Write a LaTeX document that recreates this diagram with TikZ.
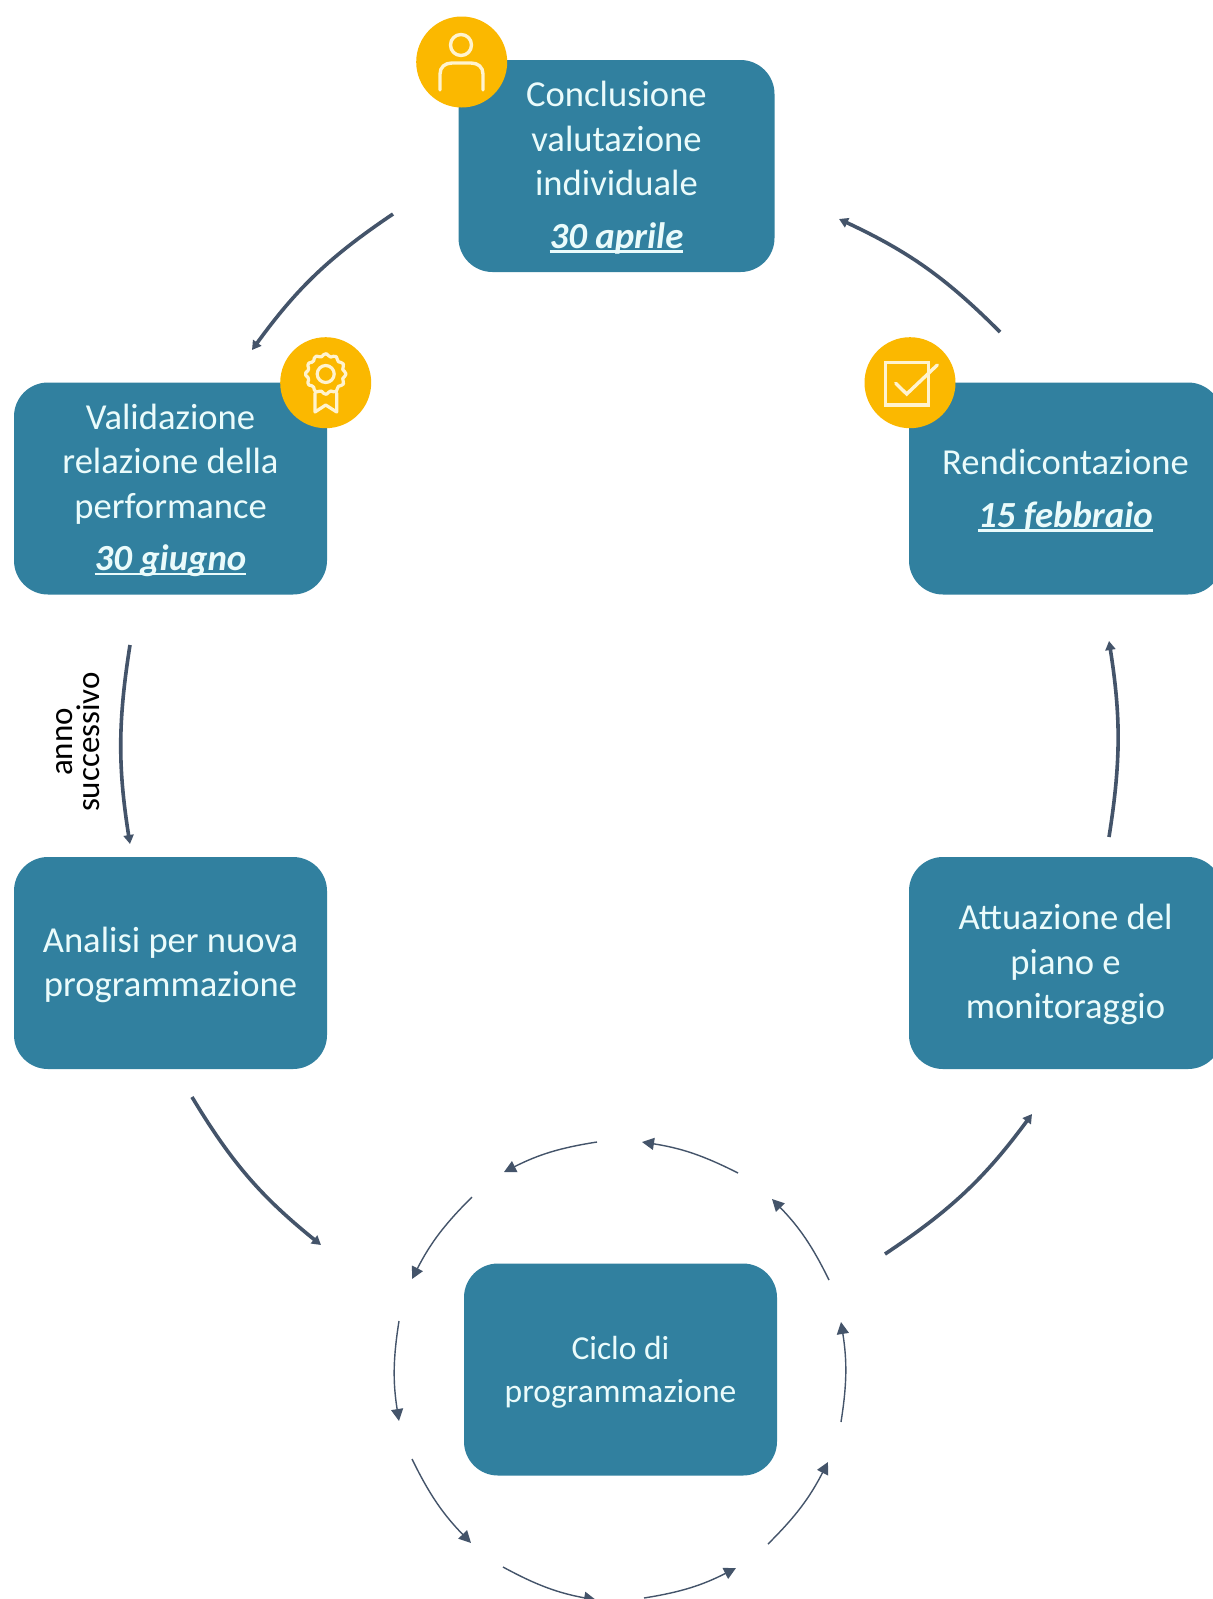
\documentclass[tikz,border=0pt]{standalone}
\usepackage{fontspec}
\setmainfont{Carlito}
\usetikzlibrary{arrows.meta}
\definecolor{teal}{HTML}{31809F}
\definecolor{gold}{HTML}{FBB800}
\definecolor{slate}{HTML}{44546A}
\definecolor{cream}{HTML}{FFF3CF}
\definecolor{mint}{HTML}{EAFBFB}
\newsavebox{\datebox}
\newcommand{\dated}[1]{\\[8pt]\sbox{\datebox}{\bfseries\itshape\fontsize{36.8}{36}\selectfont #1}\rlap{\rule[-4.5pt]{\wd\datebox}{2.4pt}}\usebox{\datebox}}
\newcommand{\lift}{\rule{0pt}{29pt}}
\tikzset{
  stagebox/.style={rectangle,rounded corners=34pt,fill=teal,text=mint,align=center,
    minimum width=313pt,minimum height=212pt,inner sep=0pt,font=\fontsize{36.6}{44.5}\selectfont},
  innerbox/.style={stagebox,font=\fontsize{33.5}{42.5}\selectfont},
  badge/.style={circle,fill=gold,minimum size=91pt,inner sep=0pt},
  icon/.style={draw=cream,line width=3.4pt,line cap=round,line join=round},
  bigarrow/.style={draw=slate,line width=3.6pt,-{Triangle[length=9pt,width=10pt]}},
  smallarrow/.style={draw=slate,line width=1.4pt,-{Triangle[length=12pt,width=12pt]}},
}
\begin{document}
\begin{tikzpicture}[x=1pt,y=-1pt]
\path[use as bounding box,fill=white] (0,0) rectangle (1213,1599);
\clip (0,0) rectangle (1213,1599);
% boxes
\node[stagebox,minimum width=316pt] (top) at (616.5,166) {\lift Conclusione\\valutazione\\individuale\dated{30 aprile}};
\node[stagebox] (val) at (170.5,488.5) {\lift Validazione\\relazione della\\performance\dated{30 giugno}};
\node[stagebox] (ren) at (1065.5,488.5) {\lift Rendicontazione\dated{15 febbraio}};
\node[stagebox] (ana) at (170.5,963) {\lift Analisi per nuova\\programmazione};
\node[stagebox] (att) at (1065.5,963) {\lift Attuazione del\\piano e\\monitoraggio};
\node[innerbox] (cic) at (620.5,1369.5) {\lift Ciclo di\\programmazione};
% badges
\node[badge] (b1) at (461.7,62) {};
\node[badge] (b2) at (325.7,382.7) {};
\node[badge] (b3) at (910,382.7) {};
% person icon
\draw[icon] (461,45) circle (10.5);
\draw[icon] (440,90) -- (440,74) .. controls (440,67) and (445,63) .. (452,63) -- (471,63) .. controls (478,63) and (483,67) .. (483,74) -- (483,90);
% rosette icon
\draw[icon,line width=3.2pt] plot[smooth cycle,samples=49,domain=0:352.5,variable=\t] ({325.7+(19+1.4*cos(12*\t))*cos(\t)},{374+(19+1.4*cos(12*\t))*sin(\t)});
\draw[icon,line width=3.2pt] (325.7,374) circle (8.5);
\draw[icon,line width=3.2pt] (315,393) -- (315,412) -- (325.7,405) -- (336.7,412) -- (336.7,393);
% check icon
\draw[icon,line cap=butt,line join=miter] (885.7,362.3) rectangle (928.3,405);
\draw[icon,line join=miter] (895.7,383.3) -- (906.7,394) -- (937.3,365);
% big arrows
\coordinate (a1s) at (1000,332); \coordinate (a1e) at (839,219);
\coordinate (a2s) at (393,214);  \coordinate (a2e) at (252,350);
\coordinate (a3s) at (130,645);  \coordinate (a3e) at (130,844);
\coordinate (a4s) at (192,1097); \coordinate (a4e) at (321,1245);
\coordinate (a5s) at (885,1254); \coordinate (a5e) at (1032,1114);
\coordinate (a6s) at (1109,837); \coordinate (a6e) at (1109,641);
\draw[bigarrow] (a1s) to[bend right=10] (a1e);
\draw[bigarrow] (a2s) to[bend right=10] (a2e);
\draw[bigarrow] (a3s) to[bend right=9] (a3e);
\draw[bigarrow] (a4s) to[bend right=10] (a4e);
\draw[bigarrow] (a5s) to[bend right=10] (a5e);
\draw[bigarrow] (a6s) to[bend right=9] (a6e);
% small ring arrows
\coordinate (r1s) at (738,1173); \coordinate (r1e) at (642,1142);
\coordinate (r2s) at (597,1142); \coordinate (r2e) at (504,1172);
\coordinate (r3s) at (472,1197); \coordinate (r3e) at (412,1279);
\coordinate (r4s) at (399,1321); \coordinate (r4e) at (399,1421);
\coordinate (r5s) at (412,1459); \coordinate (r5e) at (471,1543);
\coordinate (r6s) at (503,1567); \coordinate (r6e) at (596,1600);
\coordinate (r7s) at (644,1598); \coordinate (r7e) at (736,1568);
\coordinate (r8s) at (768,1544); \coordinate (r8e) at (828,1462);
\coordinate (r9s) at (841,1422); \coordinate (r9e) at (841,1322);
\coordinate (r10s) at (829,1280); \coordinate (r10e) at (772,1199);
\foreach \i in {1,...,10}{\draw[smallarrow] (r\i s) to[bend right=9] (r\i e);}
% label
\node[rotate=90,align=center,text=black,font=\fontsize{33}{27}\selectfont,inner sep=0pt] (lab) at (78.5,742) {anno\\successivo};
\end{tikzpicture}
\end{document}
